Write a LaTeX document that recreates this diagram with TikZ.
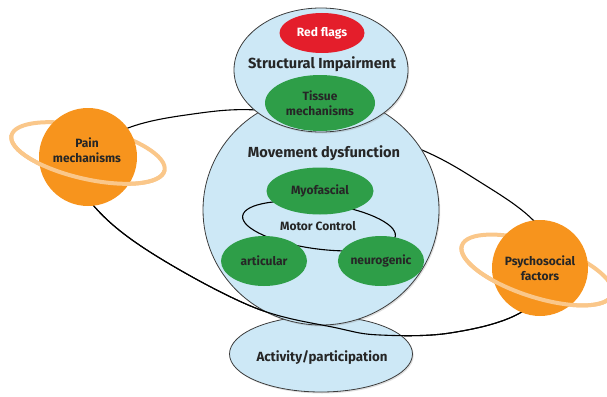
\documentclass[tikz,border=0pt]{standalone}
\usepackage{fontspec}
\setmainfont{Fira Sans}
\usetikzlibrary{shapes.geometric,shadows}
\definecolor{dxblue}{HTML}{CDE8F6}
\definecolor{dxline}{HTML}{3C3C3C}
\definecolor{dxgreen}{HTML}{2E9E48}
\definecolor{dxred}{HTML}{E41E2B}
\definecolor{dxorange}{HTML}{F7941D}
\definecolor{dxring}{HTML}{FAC78A}
\definecolor{dxtext}{HTML}{262626}

\tikzset{
  titlefont/.style={font=\bfseries\fontsize{14.6}{17}\selectfont, text=dxtext, align=center},
  nodefont/.style={font=\bfseries\fontsize{12}{14.5}\selectfont, text=dxtext, align=center},
  areabox/.style={ellipse, draw=dxline, line width=0.8pt, fill=dxblue, inner sep=0pt, titlefont,
    drop shadow={opacity=0.25, shadow xshift=1.2pt, shadow yshift=-1.5pt}},
  subbox/.style={ellipse, fill=dxgreen, inner sep=0pt, nodefont},
  planetbox/.style={circle, fill=dxorange, inner sep=0pt, nodefont},
  ringline/.style={ellipse, draw=dxring, line width=4pt, inner sep=0pt},
}

\begin{document}
\begin{tikzpicture}[x=1pt, y=-1pt]
  \useasboundingbox (0,0) rectangle (607,396);

  % orbit round the whole model (back)
  \draw[black, line width=1.1pt] plot[smooth cycle, tension=0.6] coordinates {
    (72,160) (128,128) (193,114) (257,110) (340,122) (422,150) (480,182) (533,220)
    (566,268) (520,313) (450,333) (380,335) (337,328) (253,307) (150,252) (93,205)};

  % blue areas
  \node[areabox, minimum width=183pt, minimum height=76pt] (activity) at (321,354) {};
  \node[titlefont, font=\bfseries\fontsize{13.3}{16}\selectfont] (activitytitle) at (322,358) {Activity/participation};
  \node[areabox, minimum width=236pt, minimum height=230pt] (movement) at (321,210) {};
  \node[areabox, minimum width=174pt, minimum height=124pt] (structural) at (321,70) {};

  % orbit (front)
  \begin{scope}
    \clip (0,150) -- (607,286) -- (607,396) -- (0,396) -- cycle;
    \draw[black, line width=1.1pt] plot[smooth cycle, tension=0.6] coordinates {
      (72,160) (128,128) (193,114) (257,110) (340,122) (422,150) (480,182) (533,220)
      (566,268) (520,313) (450,333) (380,335) (337,328) (253,307) (150,252) (93,205)};
  \end{scope}

  % structural impairment
  \node[subbox, fill=dxred, text=white, minimum width=85pt, minimum height=40pt] (redflags) at (322,33) {Red flags};
  \node[titlefont] (structtitle) at (322,64) {Structural Impairment};
  \node[subbox, minimum width=110pt, minimum height=56pt] (tissue) at (320,103) {Tissue\\mechanisms};

  % movement dysfunction
  \node[titlefont] (movetitle) at (324,153) {Movement dysfunction};
  \node[ellipse, draw=black, line width=1.1pt, rotate=-7.5, minimum width=154pt, minimum height=46pt] (motor) at (319,226) {};
  \node[nodefont] (motortitle) at (318,226) {Motor Control};
  \node[subbox, minimum width=107pt, minimum height=47pt] (myofascial) at (320,191) {Myofascial};
  \node[subbox, minimum width=86pt, minimum height=50pt] (articular) at (264,261) {articular};
  \node[subbox, minimum width=86pt, minimum height=50pt] (neurogenic) at (381,261) {neurogenic};

  % planets with rings
  \node[ringline, rotate=-12.9, minimum width=157pt, minimum height=52pt] (painring) at (88,153) {};
  \node[ringline, rotate=-18, minimum width=158pt, minimum height=54pt] (psyring) at (537,270) {};
  \node[planetbox, minimum size=98pt] (pain) at (88,157) {};
  \node[nodefont] (paintitle) at (87,150) {Pain\\mechanisms};
  \node[planetbox, minimum size=96pt] (psycho) at (540,268) {Psychosocial\\factors};
  \begin{scope}
    \clip (0,132.8) -- (200,178.6) -- (200,260) -- (0,260) -- cycle;
    \node[ringline, rotate=-12.9, minimum width=157pt, minimum height=52pt] (painringfront) at (88,153) {};
  \end{scope}
  \begin{scope}
    \clip (440,238.5) -- (620,297) -- (620,360) -- (440,360) -- cycle;
    \node[ringline, rotate=-18, minimum width=158pt, minimum height=54pt] (psyringfront) at (537,270) {};
  \end{scope}
\end{tikzpicture}
\end{document}
